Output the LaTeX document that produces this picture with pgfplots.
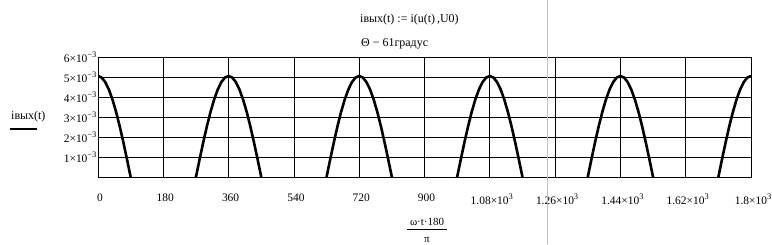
\documentclass[border=0pt]{standalone}
\usepackage{fontspec}
\setmainfont{Liberation Serif}
\usepackage{pgfplots}
\pgfplotsset{compat=1.18}
\newcommand{\sps}[1]{\raisebox{0.45em}{\fontsize{8.5}{9}\selectfont #1}}
\begin{document}
\begin{tikzpicture}[x=1bp,y=1bp,font=\fontsize{12}{14}\selectfont]
\useasboundingbox (0,0) rectangle (772,244);
\begin{axis}[
  at={(98bp,67bp)}, anchor=south west,
  scale only axis, width=653bp, height=120bp,
  xmin=0, xmax=1800, ymin=0, ymax=0.006,
  xtick={0,180,360,540,720,900,1080,1260,1440,1620,1800},
  xticklabels={0,180,360,540,720,900,{1.08×10\sps{3}},{1.26×10\sps{3}},{1.44×10\sps{3}},{1.62×10\sps{3}},{1.8×10\sps{3}}},
  ytick={0,0.001,0.002,0.003,0.004,0.005,0.006},
  yticklabels={,{1×10\sps{−3}},{2×10\sps{−3}},{3×10\sps{−3}},{4×10\sps{−3}},{5×10\sps{−3}},{6×10\sps{−3}}},
  scaled y ticks=false,
  grid=major, major grid style={black, line width=0.8bp},
  axis line style={black, line width=0.8bp},
  major tick length=0pt,
  tick label style={font=\fontsize{11.5}{13}\selectfont},
  xticklabel style={yshift=-13bp, xshift=2bp},
  yticklabel style={xshift=2bp},
  unbounded coords=jump,
  clip=true,
]
\addplot[black, line width=2.6bp] coordinates {
(0,5.050e-3) (10,4.973e-3) (20,4.745e-3) (30,4.373e-3) (40,3.868e-3) (50,3.246e-3) (60,2.525e-3) (70,1.727e-3) (80,0.877e-3) (90,0)
(180,nan)
(270,0) (280,0.877e-3) (290,1.727e-3) (300,2.525e-3) (310,3.246e-3) (320,3.868e-3) (330,4.373e-3) (340,4.745e-3) (350,4.973e-3) (360,5.050e-3) (370,4.973e-3) (380,4.745e-3) (390,4.373e-3) (400,3.868e-3) (410,3.246e-3) (420,2.525e-3) (430,1.727e-3) (440,0.877e-3) (450,0)
(540,nan)
(630,0) (640,0.877e-3) (650,1.727e-3) (660,2.525e-3) (670,3.246e-3) (680,3.868e-3) (690,4.373e-3) (700,4.745e-3) (710,4.973e-3) (720,5.050e-3) (730,4.973e-3) (740,4.745e-3) (750,4.373e-3) (760,3.868e-3) (770,3.246e-3) (780,2.525e-3) (790,1.727e-3) (800,0.877e-3) (810,0)
(900,nan)
(990,0) (1000,0.877e-3) (1010,1.727e-3) (1020,2.525e-3) (1030,3.246e-3) (1040,3.868e-3) (1050,4.373e-3) (1060,4.745e-3) (1070,4.973e-3) (1080,5.050e-3) (1090,4.973e-3) (1100,4.745e-3) (1110,4.373e-3) (1120,3.868e-3) (1130,3.246e-3) (1140,2.525e-3) (1150,1.727e-3) (1160,0.877e-3) (1170,0)
(1260,nan)
(1350,0) (1360,0.877e-3) (1370,1.727e-3) (1380,2.525e-3) (1390,3.246e-3) (1400,3.868e-3) (1410,4.373e-3) (1420,4.745e-3) (1430,4.973e-3) (1440,5.050e-3) (1450,4.973e-3) (1460,4.745e-3) (1470,4.373e-3) (1480,3.868e-3) (1490,3.246e-3) (1500,2.525e-3) (1510,1.727e-3) (1520,0.877e-3) (1530,0)
(1620,nan)
(1710,0) (1720,0.877e-3) (1730,1.727e-3) (1740,2.525e-3) (1750,3.246e-3) (1760,3.868e-3) (1770,4.373e-3) (1780,4.745e-3) (1790,4.973e-3) (1800,5.050e-3)
};
\end{axis}
% titles
\node[anchor=west, inner sep=0pt] at (360,224) {iвых(t) := i(u(t)\,,U0)};
\node[anchor=west, inner sep=0pt] at (361,200) {Θ − 61градус};
% y label with legend line
\node[anchor=west, inner sep=0pt] at (11,127) {iвых(t)};
\draw[black, line width=2.6bp] (10,115) -- (37,115);
% x label as fraction
\node[font=\fontsize{11}{13}\selectfont, inner sep=0pt] at (427,22) {ω·t·180};
\draw[black, line width=0.7bp] (407,14.5) -- (447,14.5);
\node[font=\fontsize{11}{13}\selectfont, inner sep=0pt, anchor=base] at (427,2) {π};
% grey separator line
\draw[black!25, line width=1bp] (547.5,0) -- (547.5,244);
\end{tikzpicture}
\end{document}
